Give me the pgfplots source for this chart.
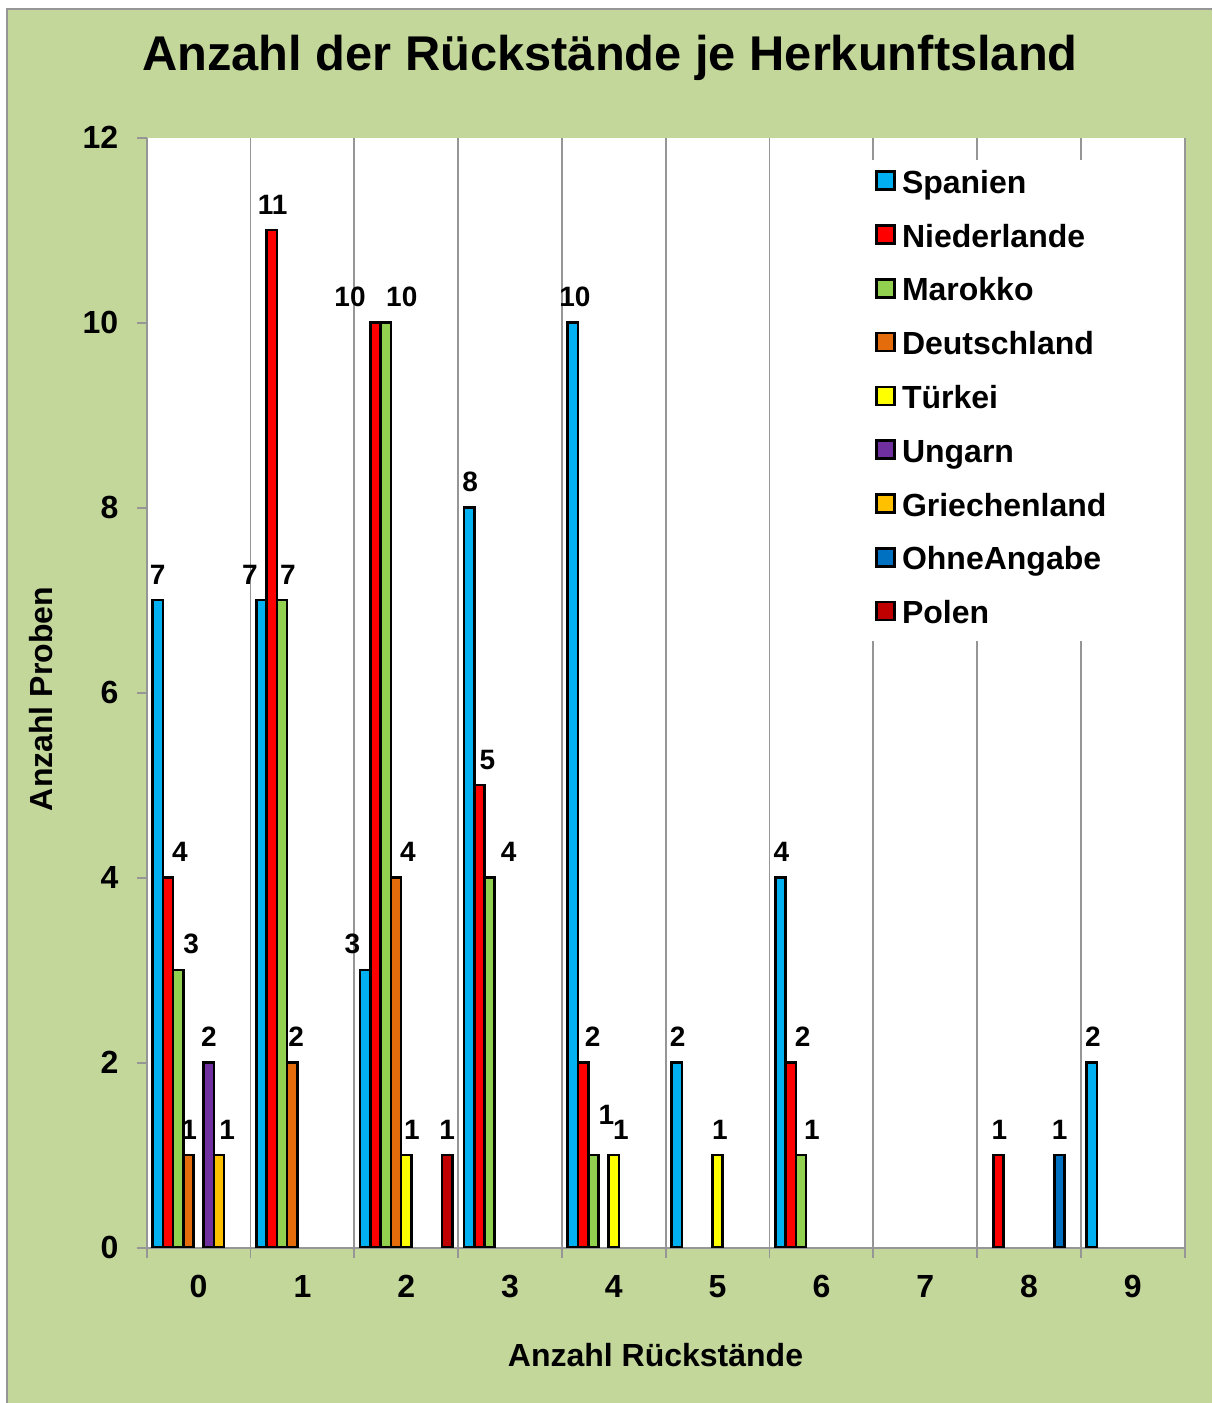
\documentclass[border=0pt]{standalone}
\usepackage{pgfplots}
\pgfplotsset{compat=1.18}
\usepackage{fontspec}
\setmainfont{Liberation Sans}
\definecolor{bg}{RGB}{196,215,155}
\definecolor{gridgray}{RGB}{150,150,150}
\definecolor{cSp}{RGB}{0,176,240}
\definecolor{cNl}{RGB}{255,0,0}
\definecolor{cMa}{RGB}{146,208,80}
\definecolor{cDe}{RGB}{228,108,10}
\definecolor{cTr}{RGB}{255,255,0}
\definecolor{cUn}{RGB}{112,48,160}
\definecolor{cGr}{RGB}{255,192,0}
\definecolor{cOA}{RGB}{0,112,192}
\definecolor{cPl}{RGB}{192,0,0}
\begin{document}
\begin{tikzpicture}
\useasboundingbox (0,0) rectangle (606pt,701.5pt);
\fill[white] (0,0) rectangle (606pt,701.5pt);
\fill[bg] (3.65pt,0) rectangle (606pt,697pt);
\draw[gridgray, line width=1pt] (3.65pt,0) -- (3.65pt,697pt) -- (606pt,697pt);
\node[anchor=base, font=\bfseries\fontsize{24.4}{29}\selectfont] at (305pt,666pt) {Anzahl der Rückstände je Herkunftsland};
\node[anchor=base, font=\bfseries\fontsize{16}{19}\selectfont] at (327.75pt,18.2pt) {Anzahl Rückstände};
\node[anchor=base, rotate=90, font=\bfseries\fontsize{16}{19}\selectfont] at (26.5pt,352pt) {Anzahl Proben};
\begin{axis}[
  at={(73.35pt,77.65pt)}, anchor=south west,
  scale only axis, width=519pt, height=555pt,
  xmin=-0.5, xmax=9.5, ymin=0, ymax=12,
  ybar=0pt, bar width=0.0985,
  legend image code/.code={\draw[#1, line width=1.3pt] (0pt,-2.25pt) rectangle (9pt,6.75pt);},
  axis x line*=bottom, axis y line*=left,
  axis background/.style={fill=white},
  axis line style={gridgray, line width=0.9pt},
  tick align=outside, major tick length=5pt,
  tick style={gridgray, line width=0.9pt},
  xtick={-0.5,0.5,...,9.5},
  x tick label as interval,
  xticklabels={0,1,2,3,4,5,6,7,8,9},
  ytick={0,2,...,12},
  xmajorgrids, grid style={gridgray, line width=0.9pt},
  /pgf/number format/assume math mode=true,
  ticklabel style={font=\bfseries\fontsize{16}{19}\selectfont, inner sep=0pt},
  yticklabel style={anchor=east, xshift=-9pt},
  xticklabel style={anchor=north, yshift=-8.6pt},
  visualization depends on={\thisrow{dx}\as\dx},
  visualization depends on={\thisrow{dy}\as\dy},
  nodes near coords,
  every node near coord/.append style={font=\bfseries\fontsize{14}{16}\selectfont, inner sep=0pt, anchor=south, xshift=\dx*1pt, yshift=7.3pt+\dy*1pt, text=black},
  legend cell align=left,
  legend style={at={(0.692,0.980)}, anchor=north west, draw=none, fill=white, inner sep=5pt, row sep=11.9pt, column sep=3pt, font=\bfseries\fontsize{16}{19}\selectfont, nodes={inner sep=0pt, text height=11.5pt, text depth=3.5pt}},
]
\addplot[fill=cSp, draw=black, line width=1.3pt] table[row sep=\\]{x y dx dy\\ 0 7 0 0\\ 1 7 -5.75 0\\ 2 3 -6.5 0\\ 3 8 0.5 0\\ 4 10 1 0\\ 5 2 0.5 0\\ 6 4 0.5 0\\ 9 2 0.5 0\\};
\addplot[fill=cNl, draw=black, line width=1.3pt] table[row sep=\\]{x y dx dy\\ 0 4 6 0\\ 1 11 0.5 0\\ 2 10 -12.75 0\\ 3 5 4 0\\ 4 2 4.8 0\\ 6 2 6 0\\ 8 1 0.5 0\\};
\addplot[fill=cMa, draw=black, line width=1.3pt] table[row sep=\\]{x y dx dy\\ 0 3 6.5 0\\ 1 7 3 0\\ 2 10 8 0\\ 3 4 9.5 0\\ 4 1 6.5 7.5\\ 6 1 5.5 0\\};
\addplot[fill=cDe, draw=black, line width=1.3pt] table[row sep=\\]{x y dx dy\\ 0 1 0.35 0\\ 1 2 2 0\\ 2 4 6 0\\};
\addplot[fill=cTr, draw=black, line width=1.3pt] table[row sep=\\]{x y dx dy\\ 2 1 2.8 0\\ 4 1 3.5 0\\ 5 1 1.2 0\\};
\addplot[fill=cUn, draw=black, line width=1.3pt] table[row sep=\\]{x y dx dy\\ 0 2 0 0\\};
\addplot[fill=cGr, draw=black, line width=1.3pt] table[row sep=\\]{x y dx dy\\ 0 1 4 0\\};
\addplot[fill=cOA, draw=black, line width=1.3pt] table[row sep=\\]{x y dx dy\\ 8 1 0 0\\};
\addplot[fill=cPl, draw=black, line width=1.3pt] table[row sep=\\]{x y dx dy\\ 2 1 0 0\\};
\legend{Spanien,Niederlande,Marokko,Deutschland,Türkei,Ungarn,Griechenland,OhneAngabe,Polen}
\end{axis}
\end{tikzpicture}
\end{document}
